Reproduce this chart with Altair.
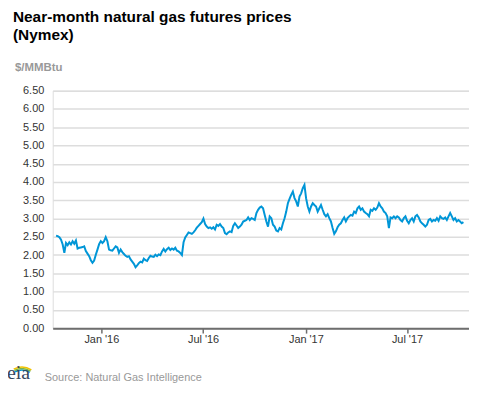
import altair as alt
import pandas as pd

# Near-month natural gas futures prices ($/MMBtu), sampled roughly every 3 days
prices = [
    # Oct 2015 - early Feb 2016
    2.53, 2.52, 2.49, 2.42, 2.29, 2.06, 2.33, 2.27, 2.35, 2.29, 2.38, 2.31, 2.40, 2.18, 2.20, 2.21,
    2.22, 2.24, 2.11, 2.04, 1.97, 1.86, 1.79, 1.85, 2.01, 2.15, 2.30, 2.38, 2.33, 2.38, 2.49, 2.38,
    2.15, 2.13, 2.12, 2.18, 2.24, 2.21, 2.06, 2.15,
    # Feb 2016 - Jun 2016
    2.08, 2.03, 1.98, 1.95, 1.97, 1.88, 1.82, 1.76, 1.67, 1.72, 1.78, 1.82, 1.80, 1.90, 1.86, 1.84,
    1.92, 1.98, 1.96, 1.95, 2.01, 1.97, 2.02, 2.00, 2.10, 2.17, 2.10, 2.16, 2.20, 2.14, 2.18, 2.15,
    2.20, 2.12, 2.10, 2.06, 2.00, 2.35, 2.48, 2.55, 2.62, 2.60,
    # Jun 2016 - Oct 2016
    2.58, 2.62, 2.68, 2.75, 2.80, 2.85, 2.90, 3.00, 2.85, 2.78, 2.74, 2.76, 2.72, 2.76, 2.70, 2.83,
    2.80, 2.85, 2.78, 2.74, 2.60, 2.57, 2.62, 2.65, 2.63, 2.80, 2.87, 2.81, 2.74, 2.78, 2.83, 2.92,
    2.94, 2.96, 3.03, 2.96, 3.01, 2.99, 2.96, 3.15, 3.24, 3.30,
    # Oct 2016 - Feb 2017
    3.33, 3.28, 3.10, 2.92, 2.78, 3.06, 3.01, 2.83, 2.78, 2.67, 2.65, 2.74, 2.70, 2.87, 3.01, 3.19,
    3.42, 3.54, 3.65, 3.74, 3.56, 3.47, 3.33, 3.60, 3.69, 3.83, 3.92, 3.55, 3.33, 3.19, 3.33, 3.42,
    3.37, 3.33, 3.19, 3.28, 3.37, 3.24, 3.12, 3.06, 3.12, 3.01,
    # Feb 2017 - Jun 2017
    2.92, 2.74, 2.58, 2.65, 2.76, 2.83, 2.87, 2.96, 3.03, 2.92, 3.01, 3.06, 3.10, 3.08, 3.19, 3.15,
    3.28, 3.33, 3.24, 3.28, 3.19, 3.15, 3.12, 3.06, 3.24, 3.21, 3.28, 3.24, 3.30, 3.42, 3.33, 3.28,
    3.19, 3.15, 3.06, 2.74, 3.03, 3.01, 3.06, 3.01, 3.06, 3.03,
    # Jun 2017 - Oct 2017
    2.96, 2.92, 3.01, 3.06, 2.94, 2.87, 2.96, 3.01, 2.92, 3.06, 3.10, 3.03, 2.92, 2.87, 2.83, 2.78,
    2.83, 2.96, 2.99, 2.92, 2.96, 2.94, 3.01, 2.94, 3.06, 3.01, 2.99, 3.03, 2.96, 3.06, 3.15, 3.06,
    2.96, 3.01, 2.92, 2.96, 2.92, 2.87, 2.90,
]
first_date = "2015-10-12"
last_date = "2017-10-10"

y_ticks = [0.0, 0.5, 1.0, 1.5, 2.0, 2.5, 3.0, 3.5, 4.0, 4.5, 5.0, 5.5, 6.0, 6.5]
x_tick_dates = [(2016, 1), (2016, 7), (2017, 1), (2017, 7)]

title_lines = ["Near-month natural gas futures prices", "(Nymex)"]
unit_label = "$/MMBtu"
source_text = "Source: Natural Gas Intelligence"

df = pd.DataFrame({
    "date": pd.date_range(first_date, last_date, periods=len(prices)),
    "price": prices,
})

FONT = "Liberation Sans"
W, H = 419, 239

line = alt.Chart(df).mark_line(color="#0096d7", strokeWidth=2).encode(
    x=alt.X(
        "date:T",
        scale=alt.Scale(domain=[alt.DateTime(year=2015, month=10, date=6),
                                alt.DateTime(year=2017, month=10, date=20)]),
        axis=alt.Axis(
            values=[alt.DateTime(year=y, month=m, date=1) for y, m in x_tick_dates],
            format="%b '%y", title=None, grid=False,
            domainColor="#6e6e6e", domainWidth=2,
            tickColor="#6e6e6e", tickSize=5, tickWidth=1.5,
            labelColor="#333333", labelFontSize=11, labelPadding=0, labelFont=FONT,
        ),
    ),
    y=alt.Y(
        "price:Q",
        scale=alt.Scale(domain=[0, 6.5], nice=False, zero=True),
        axis=alt.Axis(
            values=y_ticks, format=".2f", title=None, ticks=False, domain=False,
            gridColor="#dddddd", gridWidth=1.5,
            labelColor="#333333", labelFontSize=11, labelPadding=9, labelFont=FONT,
        ),
    ),
)


def text_layer(text, x, y, size, color, weight="normal", font=FONT):
    return alt.Chart(pd.DataFrame({"t": [text]})).mark_text(
        align="left", baseline="alphabetic", fontSize=size, color=color,
        fontWeight=weight, font=font,
    ).encode(x=alt.value(x), y=alt.value(y), text="t:N")


def arc_layer(color, r1, r2):
    return alt.Chart(pd.DataFrame({"t": [0]})).mark_arc(
        radius=r1, radius2=r2, theta=5.8, theta2=6.85, color=color,
    ).encode(x=alt.value(-31), y=alt.value(296))


title1 = text_layer(title_lines[0], -40, -69, 15.5, "#000000", "bold")
title2 = text_layer(title_lines[1], -40, -51, 15.5, "#000000", "bold")
unit = text_layer(unit_label, -38, -19.5, 11.5, "#999999", "bold")
source = text_layer(source_text, -8, 292, 11, "#999999")
logo = text_layer("eia", -46, 290, 20, "#34465c", "normal", "Liberation Serif")
arcs = (arc_layer("#0096d7", 14, 15.5) + arc_layer("#7ab648", 15.5, 17)
        + arc_layer("#f2c200", 17, 18.5))

chart = alt.layer(line, title1, title2, unit, source, arcs, logo).properties(
    width=W, height=H,
    autosize=alt.AutoSizeParams(type="none"),
    padding={"left": 45, "top": 82, "right": 0, "bottom": 56},
).configure_view(stroke=None).configure(background="white")

chart.save("out.html", embed_options={"renderer": "svg", "actions": False})
